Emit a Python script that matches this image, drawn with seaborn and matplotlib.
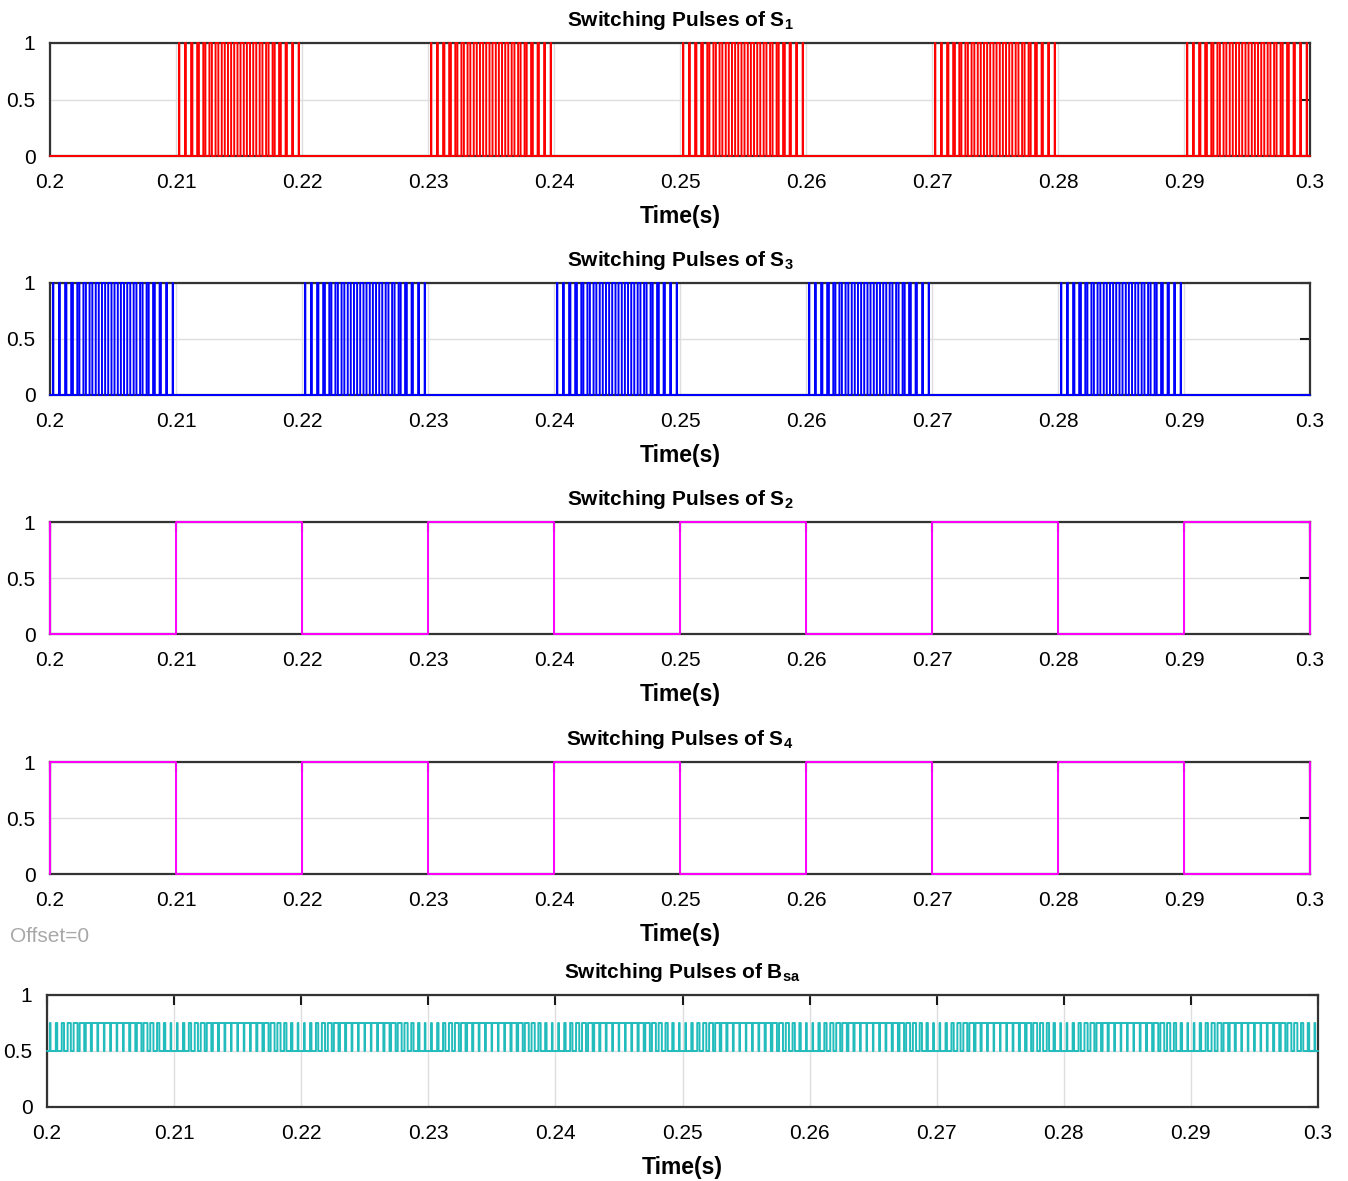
import numpy as np
import pandas as pd
import matplotlib
matplotlib.use("Agg")
import matplotlib.pyplot as plt
import seaborn as sns

# ---------------- data ----------------
t_start, t_end = 0.20, 0.30
carrier_period = 0.0005          # 20 carrier periods per 10 ms window
window_len = 0.01

# duty ratio of each carrier period inside an active 10 ms window
spwm_duty = [0.06, 0.13, 0.20, 0.27, 0.33, 0.39, 0.44, 0.48, 0.50, 0.52,
             0.52, 0.50, 0.48, 0.44, 0.39, 0.33, 0.27, 0.20, 0.13, 0.06]
bsa_duty = [0.10, 0.22, 0.36, 0.50, 0.62, 0.72, 0.80, 0.86, 0.90, 0.92,
            0.92, 0.90, 0.86, 0.80, 0.72, 0.62, 0.50, 0.36, 0.22, 0.10]

s1_windows = [0.21, 0.23, 0.25, 0.27, 0.29]   # S1 switching / S2 high
s3_windows = [0.20, 0.22, 0.24, 0.26, 0.28]   # S3 switching / S4 high
bsa_windows = [0.20, 0.21, 0.22, 0.23, 0.24, 0.25, 0.26, 0.27, 0.28, 0.29]
bsa_low, bsa_high = 0.5, 0.75

xticks = [0.20, 0.21, 0.22, 0.23, 0.24, 0.25, 0.26, 0.27, 0.28, 0.29, 0.30]
xtick_labels = ["0.2", "0.21", "0.22", "0.23", "0.24", "0.25", "0.26",
                "0.27", "0.28", "0.29", "0.3"]
yticks = [0, 0.5, 1]
ytick_labels = ["0", "0.5", "1"]

titles = [r"Switching Pulses of $\mathbf{S_{1}}$",
          r"Switching Pulses of $\mathbf{S_{3}}$",
          r"Switching Pulses of $\mathbf{S_{2}}$",
          r"Switching Pulses of $\mathbf{S_{4}}$",
          r"Switching Pulses of $\mathbf{B_{sa}}$"]
colors = ["#ff0000", "#0000ff", "#ff00ff", "#ff00ff", "#22bcbc"]


# ---------------- signal construction ----------------
def pwm_signal(windows, duty, low=0.0, high=1.0):
    xs, ys = [t_start], [low]
    for w in windows:
        for k, d in enumerate(duty):
            t0 = w + k * carrier_period
            xs += [t0 + carrier_period * (1 - d) / 2, t0 + carrier_period * (1 + d) / 2]
            ys += [high, low]
    xs.append(t_end); ys.append(low)
    return pd.DataFrame({"t": xs, "v": ys}).sort_values("t", kind="stable")


def square_signal(high_windows, first_value):
    xs, ys = [t_start], [1 - first_value]
    for k in range(10):
        t = t_start + k * window_len
        v = 1 if any(abs(t - w) < 1e-9 for w in high_windows) else 0
        xs.append(t); ys.append(v)
    last = ys[-1]
    xs.append(t_end); ys.append(last)
    xs.append(t_end); ys.append(1 - last)
    return pd.DataFrame({"t": xs, "v": ys})


signals = [
    pwm_signal(s1_windows, spwm_duty),
    pwm_signal(s3_windows, spwm_duty),
    square_signal(s1_windows, 0),
    square_signal(s3_windows, 1),
    pwm_signal(bsa_windows, bsa_duty, bsa_low, bsa_high),
]

# ---------------- styling ----------------
sns.set_style("white")
plt.rcParams["font.family"] = ["Liberation Sans", "DejaVu Sans"]
plt.rcParams["mathtext.fontset"] = "custom"
plt.rcParams["mathtext.rm"] = "Liberation Sans"
plt.rcParams["mathtext.bf"] = "Liberation Sans:bold"
plt.rcParams["mathtext.it"] = "Liberation Sans:italic"
plt.rcParams["path.simplify"] = False
plt.rcParams["text.color"] = "black"
plt.rcParams["axes.labelcolor"] = "black"

W, H = 1348, 1181
fig = plt.figure(figsize=(W / 100, H / 100), dpi=100)
fig.patch.set_facecolor("white")

# axes boxes in pixels: (left, top, right, bottom)
boxes = [(50, 43, 1310, 156),
         (50, 283, 1310, 395),
         (50, 522, 1310, 634),
         (50, 762, 1310, 874),
         (47, 995, 1318, 1107)]

for i, (box, df, col, title) in enumerate(zip(boxes, signals, colors, titles)):
    l, t, r, b = box
    ax = fig.add_axes([l / W, (H - b) / H, (r - l) / W, (b - t) / H])
    sns.lineplot(data=df, x="t", y="v", ax=ax, color=col, linewidth=1.4,
                 drawstyle="steps-post", estimator=None, sort=False,
                 clip_on=False, zorder=3, snap=False)
    ax.set_xlim(t_start, t_end)
    ax.set_ylim(0, 1)
    ax.set_xticks(xticks)
    ax.set_xticklabels(xtick_labels)
    ax.set_yticks(yticks)
    ax.set_yticklabels(ytick_labels)
    ax.grid(True, color="#dedede", linewidth=1.0)
    ax.set_axisbelow(True)
    for sp in ax.spines.values():
        sp.set_visible(True)
        sp.set_color("#333333")
        sp.set_linewidth(1.6)
    ax.tick_params(axis="both", direction="in", length=7, width=1.5,
                   color="#1a1a1a", labelsize=15, top=True, right=True,
                   labelcolor="black")
    if i < 2:
        ax.tick_params(axis="x", length=0)
    ax.tick_params(axis="x", pad=12.5)
    ax.tick_params(axis="y", pad=10.5)
    ax.set_xlabel("Time(s)", fontsize=16.5, fontweight="bold", labelpad=9,
                  color="black")
    ax.set_ylabel("")
    ax.set_title(title, fontsize=15, fontweight="bold", pad=12, color="black")

fig.text(10 / W, (H - 937) / H, "Offset=0", fontsize=15, color="#a8a8a8",
         ha="left", va="center")

fig.savefig("out.png", dpi=100, facecolor="white")
